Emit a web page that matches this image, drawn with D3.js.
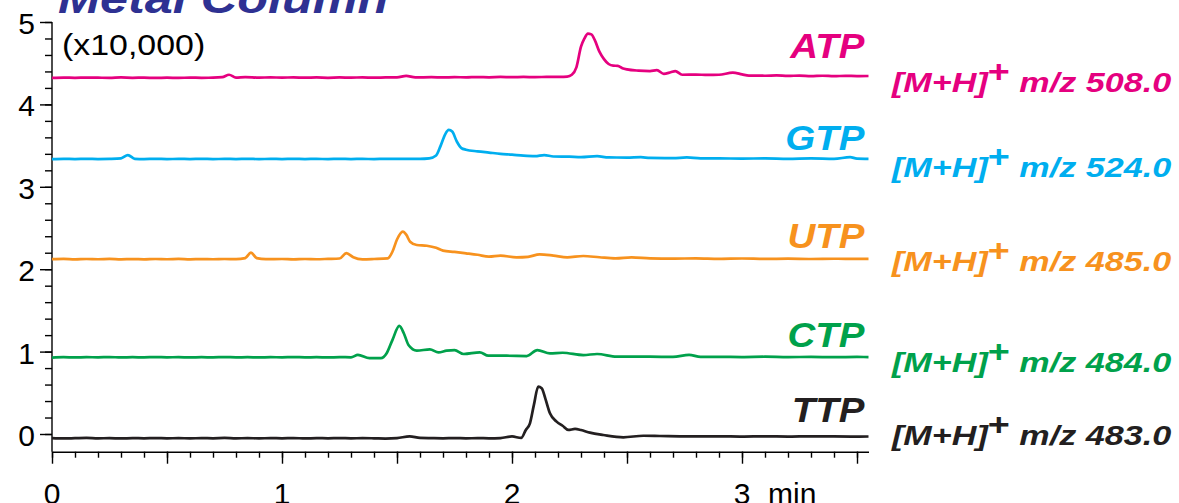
<!DOCTYPE html>
<html>
<head>
<meta charset="utf-8">
<script src="https://cdn.jsdelivr.net/npm/d3@7"></script>
<style>
  body { margin: 0; background: #fff; }
  svg { display: block; }
  text { font-family: "Liberation Sans", Arial, Helvetica, sans-serif; }
</style>
</head>
<body>
<svg id="chart" width="1179" height="503"></svg>
<script>
(function() {

  var names = ["ATP", "GTP", "UTP", "CTP", "TTP"];
  var ions = ["m/z 508.0", "m/z 524.0", "m/z 485.0", "m/z 484.0", "m/z 483.0"];
  var colors = ["#e5007f", "#00aeef", "#f7921e", "#00a14b", "#231f20"];

  // [time (min), intensity (x10,000)]
  var atp = [[0,4.322],[0.05,4.326],[0.1,4.322],[0.15,4.326],[0.2,4.324],[0.25,4.322],[0.3,4.327],[0.35,4.323],[0.4,4.325],[0.45,4.321],[0.5,4.324],[0.55,4.322],[0.6,4.325],[0.65,4.323],[0.7,4.324],[0.74,4.33],[0.77,4.36],[0.8,4.326],[0.84,4.332],[0.9,4.325],[0.95,4.328],[1.0,4.325],[1.05,4.328],[1.1,4.324],[1.15,4.327],[1.2,4.323],[1.25,4.327],[1.3,4.325],[1.35,4.328],[1.4,4.324],[1.45,4.327],[1.5,4.328],[1.54,4.345],[1.58,4.328],[1.65,4.33],[1.7,4.327],[1.75,4.331],[1.8,4.328],[1.85,4.332],[1.9,4.329],[1.95,4.333],[2.0,4.33],[2.05,4.333],[2.1,4.331],[2.15,4.334],[2.2,4.335],[2.24,4.338],[2.26,4.36],[2.28,4.45],[2.3,4.7],[2.315,4.8],[2.33,4.86],[2.345,4.85],[2.36,4.78],[2.38,4.64],[2.4,4.55],[2.42,4.49],[2.44,4.47],[2.46,4.468],[2.48,4.44],[2.5,4.425],[2.55,4.41],[2.6,4.405],[2.63,4.415],[2.66,4.37],[2.69,4.39],[2.71,4.405],[2.74,4.36],[2.8,4.362],[2.85,4.358],[2.9,4.36],[2.96,4.385],[3.0,4.365],[3.03,4.35],[3.1,4.348],[3.15,4.352],[3.2,4.345],[3.25,4.35],[3.3,4.343],[3.35,4.348],[3.4,4.342],[3.45,4.347],[3.5,4.343],[3.55,4.345]];
  var gtp = [[0,3.337],[0.05,3.34],[0.1,3.336],[0.15,3.34],[0.2,3.337],[0.25,3.339],[0.3,3.345],[0.33,3.385],[0.36,3.34],[0.4,3.337],[0.45,3.34],[0.5,3.336],[0.55,3.339],[0.6,3.337],[0.65,3.34],[0.7,3.336],[0.75,3.339],[0.8,3.337],[0.85,3.34],[0.9,3.336],[0.95,3.339],[1.0,3.337],[1.05,3.34],[1.1,3.337],[1.15,3.339],[1.2,3.336],[1.25,3.34],[1.3,3.337],[1.35,3.339],[1.4,3.336],[1.45,3.34],[1.5,3.338],[1.55,3.34],[1.6,3.339],[1.64,3.345],[1.67,3.38],[1.69,3.5],[1.71,3.64],[1.725,3.69],[1.74,3.67],[1.76,3.55],[1.78,3.47],[1.8,3.45],[1.85,3.43],[1.9,3.415],[1.95,3.4],[2.0,3.39],[2.05,3.378],[2.1,3.372],[2.14,3.385],[2.18,3.368],[2.25,3.365],[2.3,3.36],[2.37,3.372],[2.42,3.356],[2.5,3.355],[2.56,3.36],[2.6,3.35],[2.7,3.348],[2.76,3.356],[2.82,3.345],[2.9,3.345],[3.0,3.342],[3.1,3.345],[3.2,3.34],[3.3,3.344],[3.4,3.34],[3.47,3.36],[3.5,3.342],[3.55,3.34]];
  var utp = [[0,2.122],[0.05,2.126],[0.1,2.12],[0.15,2.124],[0.2,2.121],[0.25,2.125],[0.3,2.12],[0.35,2.123],[0.4,2.12],[0.45,2.124],[0.5,2.121],[0.55,2.125],[0.6,2.12],[0.65,2.123],[0.7,2.121],[0.75,2.124],[0.8,2.122],[0.84,2.135],[0.865,2.2],[0.89,2.135],[0.93,2.122],[1.0,2.124],[1.05,2.12],[1.1,2.124],[1.15,2.121],[1.2,2.125],[1.25,2.13],[1.28,2.195],[1.31,2.145],[1.35,2.12],[1.4,2.124],[1.46,2.132],[1.48,2.212],[1.5,2.36],[1.525,2.455],[1.54,2.42],[1.557,2.334],[1.586,2.294],[1.63,2.285],[1.67,2.26],[1.7,2.225],[1.75,2.21],[1.8,2.193],[1.85,2.175],[1.9,2.152],[1.95,2.164],[2.02,2.144],[2.07,2.15],[2.12,2.18],[2.18,2.165],[2.24,2.144],[2.31,2.16],[2.38,2.145],[2.45,2.132],[2.52,2.144],[2.6,2.132],[2.7,2.128],[2.8,2.132],[2.9,2.126],[3.0,2.13],[3.1,2.125],[3.2,2.128],[3.3,2.124],[3.4,2.127],[3.5,2.125],[3.55,2.125]];
  var ctp = [[0,0.928],[0.05,0.932],[0.1,0.929],[0.15,0.933],[0.2,0.93],[0.25,0.934],[0.3,0.929],[0.35,0.932],[0.4,0.93],[0.45,0.934],[0.5,0.93],[0.55,0.933],[0.6,0.929],[0.65,0.932],[0.7,0.93],[0.75,0.934],[0.8,0.93],[0.85,0.932],[0.9,0.929],[0.95,0.933],[1.0,0.93],[1.05,0.934],[1.1,0.93],[1.15,0.932],[1.2,0.929],[1.25,0.933],[1.3,0.931],[1.33,0.96],[1.38,0.92],[1.43,0.92],[1.455,0.98],[1.48,1.14],[1.51,1.311],[1.53,1.22],[1.55,1.08],[1.586,1.011],[1.643,1.028],[1.68,0.99],[1.716,1.011],[1.75,1.019],[1.79,0.971],[1.86,0.991],[1.897,0.95],[1.977,0.95],[2.064,0.946],[2.11,1.019],[2.165,0.979],[2.22,0.986],[2.31,0.958],[2.37,0.971],[2.455,0.939],[2.6,0.939],[2.7,0.935],[2.77,0.96],[2.82,0.935],[2.9,0.937],[3.0,0.934],[3.1,0.938],[3.2,0.933],[3.3,0.936],[3.4,0.932],[3.5,0.935],[3.55,0.934]];
  var ttp = [[0,-0.05],[0.05,-0.054],[0.1,-0.051],[0.15,-0.048],[0.2,-0.053],[0.25,-0.05],[0.3,-0.054],[0.35,-0.05],[0.4,-0.052],[0.45,-0.049],[0.5,-0.053],[0.55,-0.05],[0.6,-0.053],[0.65,-0.05],[0.7,-0.052],[0.75,-0.048],[0.8,-0.053],[0.85,-0.05],[0.9,-0.053],[0.95,-0.05],[1.0,-0.052],[1.05,-0.049],[1.1,-0.054],[1.15,-0.05],[1.2,-0.052],[1.25,-0.049],[1.3,-0.053],[1.35,-0.05],[1.4,-0.052],[1.45,-0.055],[1.5,-0.05],[1.555,-0.028],[1.6,-0.047],[1.65,-0.05],[1.7,-0.052],[1.75,-0.049],[1.8,-0.053],[1.85,-0.05],[1.9,-0.052],[1.95,-0.049],[2.0,-0.03],[2.04,-0.048],[2.06,0.049],[2.078,0.13],[2.095,0.35],[2.114,0.574],[2.129,0.555],[2.145,0.43],[2.165,0.251],[2.194,0.15],[2.22,0.1],[2.245,0.049],[2.274,0.061],[2.3,0.048],[2.339,0.016],[2.397,-0.012],[2.484,-0.04],[2.571,-0.021],[2.643,-0.024],[2.73,-0.028],[2.8,-0.03],[2.9,-0.028],[3.0,-0.032],[3.1,-0.028],[3.2,-0.031],[3.3,-0.029],[3.4,-0.03],[3.5,-0.032],[3.55,-0.03]];
  var series = [atp, gtp, utp, ctp, ttp];

  var yTickLabels = ["0", "1", "2", "3", "4", "5"];
  var xTickLabels = ["0", "1", "2", "3"];

  // label layout (baselines in px)
  var nameBase = [58, 150, 248, 347, 422];
  var ionBase = [92, 177, 271, 372, 445];

  var x = d3.scaleLinear().domain([0, 3.55]).range([52, 868.5]);
  var y = d3.scaleLinear().domain([0, 5]).range([434, 22]);
  var yBottom = -0.215;
  var axisY = y(yBottom);

  var svg = d3.select("#chart");

  var stretched = function(px, py, sx) {
    return svg.append("g").attr("transform", "translate(" + px + "," + py + ") scale(" + sx + ",1)");
  };

  // title, cut at the top edge
  stretched(58, 13, 1.2).append("text")
    .attr("font-size", 42)
    .attr("font-weight", "bold")
    .attr("font-style", "italic")
    .attr("fill", "#2e3192")
    .text("Metal Column");

  stretched(62, 55, 1.13).append("text")
    .attr("font-size", 30)
    .attr("fill", "#000")
    .text("(x10,000)");

  // y axis
  var yMinor = d3.range(0, 26).map(function(i) { return i * 0.2; });
  svg.append("g")
    .attr("transform", "translate(" + x(0) + ",0)")
    .call(d3.axisLeft(y).tickValues(yMinor).tickSize(7).tickSizeOuter(0).tickFormat(""))
    .call(function(g) { g.select(".domain").remove(); });
  svg.append("g")
    .attr("transform", "translate(" + x(0) + ",0)")
    .call(d3.axisLeft(y).tickValues(yTickLabels.map(Number)).tickSize(12).tickSizeOuter(0).tickFormat(""))
    .call(function(g) { g.select(".domain").remove(); });
  svg.append("line")
    .attr("x1", x(0)).attr("x2", x(0))
    .attr("y1", y(5)).attr("y2", axisY)
    .attr("stroke", "#000");

  svg.selectAll(".ylab")
    .data(yTickLabels)
    .enter().append("text")
    .attr("class", "ylab")
    .attr("x", 35)
    .attr("y", function(d) { return y(+d); })
    .attr("dy", "0.4em")
    .attr("text-anchor", "end")
    .attr("font-size", 30)
    .attr("fill", "#000")
    .text(function(d) { return d; });

  // x axis
  var xMinor = d3.range(0, 36).map(function(i) { return i * 0.1; });
  var xMajor = d3.range(0, 8).map(function(i) { return i * 0.5; });
  svg.append("g")
    .attr("transform", "translate(0," + axisY + ")")
    .call(d3.axisBottom(x).tickValues(xMinor).tickSize(6).tickSizeOuter(0).tickFormat(""));
  svg.append("g")
    .attr("transform", "translate(0," + axisY + ")")
    .call(d3.axisBottom(x).tickValues(xMajor).tickSize(12).tickSizeOuter(0).tickFormat(""))
    .call(function(g) { g.select(".domain").remove(); });

  svg.selectAll(".xlab")
    .data(xTickLabels)
    .enter().append("text")
    .attr("class", "xlab")
    .attr("x", function(d) { return x(+d); })
    .attr("y", 504)
    .attr("text-anchor", "middle")
    .attr("font-size", 30)
    .attr("fill", "#000")
    .text(function(d) { return d; });
  svg.append("text")
    .attr("x", x(3) + 26)
    .attr("y", 504)
    .attr("font-size", 30)
    .attr("fill", "#000")
    .text("min");

  svg.selectAll(".tick line, .domain, line").attr("stroke-width", 1.4);

  // traces
  var line = d3.line()
    .x(function(d) { return x(d[0]); })
    .y(function(d) { return y(d[1]); })
    .curve(d3.curveMonotoneX);

  svg.selectAll(".trace")
    .data(series)
    .enter().append("path")
    .attr("class", "trace")
    .attr("d", line)
    .attr("fill", "none")
    .attr("stroke", function(d, i) { return colors[i]; })
    .attr("stroke-width", 2.7)
    .attr("stroke-linejoin", "round");

  // compound names and ions
  for (var i = 0; i < names.length; i++) {
    stretched(x(3.55) - 4, nameBase[i], 1.1).append("text")
      .attr("text-anchor", "end")
      .attr("font-size", 35)
      .attr("font-weight", "bold")
      .attr("font-style", "italic")
      .attr("fill", colors[i])
      .text(names[i]);

    var t = stretched(892, ionBase[i], 1.22).append("text")
      .attr("font-size", 28)
      .attr("font-weight", "bold")
      .attr("font-style", "italic")
      .attr("fill", colors[i]);
    t.append("tspan").text("[M+H]");
    t.append("tspan").attr("font-size", 31).attr("font-style", "normal").attr("dy", -10).text("+");
    t.append("tspan").attr("dy", 10).text(" " + ions[i]);
  }

})();
</script>
</body>
</html>
